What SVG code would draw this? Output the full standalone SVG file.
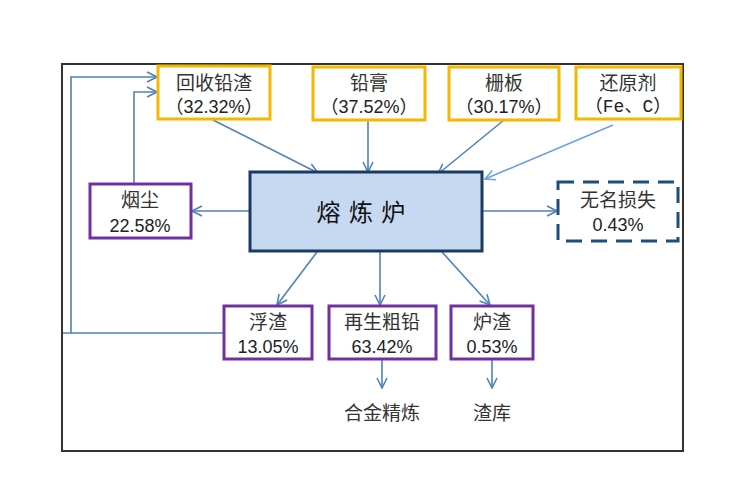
<svg xmlns="http://www.w3.org/2000/svg" width="740" height="500" viewBox="0 0 740 500">
<style>
.cn{font-family:"Noto Sans CJK SC","Noto Sans",sans-serif;font-size:19px;fill:#333;text-anchor:middle}
.num{font-family:"Liberation Sans","Noto Sans CJK SC",sans-serif;font-size:18px;fill:#222;text-anchor:middle}
.org{fill:#fff;stroke:#F5B800;stroke-width:3}
.pur{fill:#fff;stroke:#7030A0;stroke-width:3}
.ln{fill:none;stroke:#4F81BD;stroke-width:1.6}
</style>
<defs>
<marker id="ah" viewBox="0 0 12 12" refX="11" refY="6" markerWidth="12" markerHeight="12" markerUnits="userSpaceOnUse" orient="auto">
<path d="M1,1 L11,6 L1,11" fill="none" stroke="#4F81BD" stroke-width="1.6"/>
</marker>
<marker id="ah2" viewBox="0 0 12 12" refX="11" refY="6" markerWidth="12" markerHeight="12" markerUnits="userSpaceOnUse" orient="auto">
<path d="M1,1 L11,6 L1,11" fill="none" stroke="#6F9FE6" stroke-width="1.6"/>
</marker>
</defs>
<rect width="740" height="500" fill="#fff"/>
<rect x="62" y="64" width="621" height="387" fill="none" stroke="#333" stroke-width="2"/>
<g id="connectors">
<line class="ln" x1="213" y1="120" x2="318" y2="173" marker-end="url(#ah)"/>
<line class="ln" x1="368" y1="120" x2="368" y2="172" marker-end="url(#ah)"/>
<line class="ln" x1="504" y1="120" x2="438" y2="174" marker-end="url(#ah)"/>
<line x1="613" y1="125" x2="485" y2="179" fill="none" stroke="#6F9FE6" stroke-width="1.6" marker-end="url(#ah2)"/>
<line class="ln" x1="250" y1="211" x2="192" y2="211" marker-end="url(#ah)"/>
<line class="ln" x1="482" y1="211" x2="557" y2="211" marker-end="url(#ah)"/>
<line class="ln" x1="317" y1="252" x2="277" y2="305" marker-end="url(#ah)"/>
<line class="ln" x1="380" y1="252" x2="380" y2="305" marker-end="url(#ah)"/>
<line class="ln" x1="442" y1="252" x2="490" y2="305" marker-end="url(#ah)"/>
<line class="ln" x1="382" y1="352" x2="382" y2="388" marker-end="url(#ah)"/>
<line class="ln" x1="492" y1="360" x2="492" y2="388" marker-end="url(#ah)"/>
<polyline class="ln" points="134,184 134,92 157,92" marker-end="url(#ah)"/>
<polyline class="ln" points="224,333 63,333"/>
<polyline class="ln" points="71,333 71,77 157,77" marker-end="url(#ah)"/>
</g>
<g id="n-huishou">
<rect class="org" x="158" y="66" width="112" height="53"/>
<text class="cn" x="214" y="90">回收铅渣</text>
<text class="num" x="214" y="113">（32.32%）</text>
</g>
<g id="n-qiangao">
<rect class="org" x="313" y="67" width="112" height="53"/>
<text class="cn" x="369" y="90">铅膏</text>
<text class="num" x="369" y="113">（37.52%）</text>
</g>
<g id="n-shanban">
<rect class="org" x="449" y="67" width="110" height="53"/>
<text class="cn" x="504" y="90">栅板</text>
<text class="num" x="504" y="113">（30.17%）</text>
</g>
<g id="n-huanyuan">
<rect class="org" x="576" y="67" width="105" height="52"/>
<text class="cn" x="628" y="90">还原剂</text>
<text class="num" x="628" y="112" style="font-family:'Liberation Mono','Noto Sans CJK SC',monospace">（Fe、C）</text>
</g>
<g id="n-furnace">
<rect x="250" y="172" width="232" height="79" fill="#C6D9F1" stroke="#1B3A62" stroke-width="3"/>
<text x="361" y="221" style="font-family:'Noto Sans CJK SC',sans-serif;font-size:24px;fill:#111;text-anchor:middle;word-spacing:3px">熔 炼 炉</text>
</g>
<g id="n-yanchen">
<rect class="pur" x="90" y="184" width="101" height="54"/>
<text class="cn" x="140" y="207">烟尘</text>
<text class="num" x="140" y="232">22.58%</text>
</g>
<g id="n-loss">
<rect x="558" y="182" width="120" height="59" fill="#fff" stroke="#1F4E79" stroke-width="3" stroke-dasharray="16,9"/>
<text class="cn" x="618" y="207">无名损失</text>
<text class="num" x="618" y="231">0.43%</text>
</g>
<g id="n-fuzha">
<rect class="pur" x="224" y="306" width="88" height="53"/>
<text class="cn" x="268" y="329">浮渣</text>
<text class="num" x="268" y="353">13.05%</text>
</g>
<g id="n-cuqian">
<rect class="pur" x="329" y="306" width="107" height="53"/>
<text class="cn" x="382" y="329">再生粗铅</text>
<text class="num" x="382" y="353">63.42%</text>
</g>
<g id="n-luzha">
<rect class="pur" x="451" y="306" width="82" height="53"/>
<text class="cn" x="492" y="329">炉渣</text>
<text class="num" x="492" y="353">0.53%</text>
</g>
<g id="t-hejin"><text class="cn" x="382" y="420">合金精炼</text></g>
<g id="t-zhaku"><text class="cn" x="492" y="420">渣库</text></g>
</svg>
